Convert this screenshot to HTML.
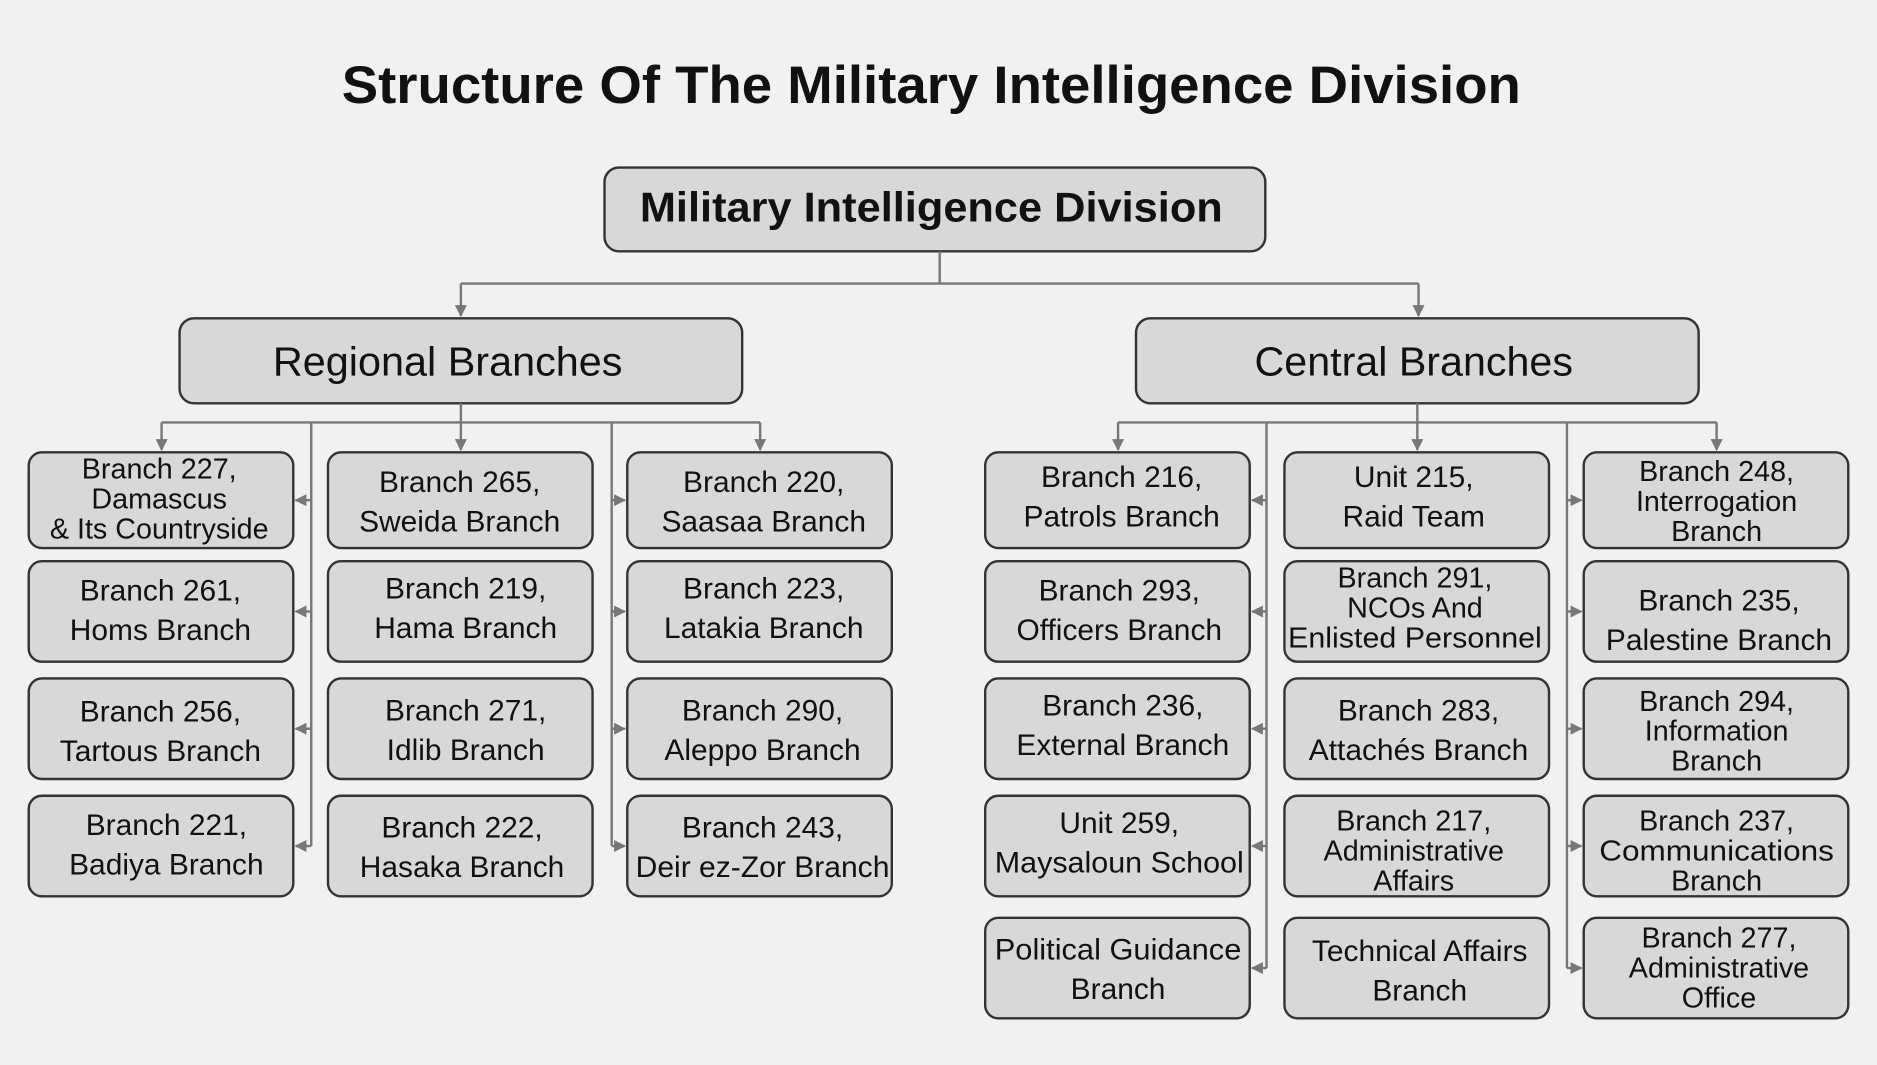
<!DOCTYPE html>
<html><head><meta charset="utf-8"><style>
html,body{margin:0;padding:0;background:#f1f1f1;}
svg{display:block}
text{font-family:"Liberation Sans",sans-serif;fill:#111;text-anchor:middle}
.b{fill:#d8d8d8;stroke:#333;stroke-width:2}
.l{stroke:#777;stroke-width:2;fill:none}
.t{font-size:25px}
.s{font-size:24px}
</style></head><body>
<svg width="1877" height="1065" viewBox="0 0 1568 890" preserveAspectRatio="none" xmlns="http://www.w3.org/2000/svg">
<defs><marker id="a" viewBox="0 0 10 10" refX="9" refY="5" markerWidth="5" markerHeight="5" orient="auto"><path d="M0,0L10,5L0,10z" fill="#777"/></marker></defs>
<rect width="1568" height="890" fill="#f1f1f1"/>
<text x="778" y="86" textLength="985" lengthAdjust="spacingAndGlyphs" style="font-size:44px;font-weight:bold">Structure Of The Military Intelligence Division</text>
<rect class="b" x="505" y="140" width="552" height="70" rx="12"/>
<text x="778" y="185" textLength="487" lengthAdjust="spacingAndGlyphs" style="font-size:35px;font-weight:bold">Military Intelligence Division</text>
<path class="l" d="M785,210V237M385,237H1185"/>
<path class="l" d="M385,237V264" marker-end="url(#a)"/><path class="l" d="M1185,237V264" marker-end="url(#a)"/>
<rect class="b" x="150" y="266" width="470" height="71" rx="12"/>
<text x="374" y="314" textLength="292" lengthAdjust="spacingAndGlyphs" style="font-size:34px">Regional Branches</text>
<rect class="b" x="949" y="266" width="470" height="71" rx="12"/>
<text x="1181" y="314" textLength="266" lengthAdjust="spacingAndGlyphs" style="font-size:34px">Central Branches</text>
<path class="l" d="M385,337V353M135,353H635M260,353V707M511,353V707"/>
<path class="l" d="M135,353V376" marker-end="url(#a)"/><path class="l" d="M385,353V376" marker-end="url(#a)"/><path class="l" d="M635,353V376" marker-end="url(#a)"/>
<path class="l" d="M260,418H247" marker-end="url(#a)"/><path class="l" d="M260,511H247" marker-end="url(#a)"/><path class="l" d="M260,609H247" marker-end="url(#a)"/><path class="l" d="M260,707H247" marker-end="url(#a)"/>
<path class="l" d="M511,418H522" marker-end="url(#a)"/><path class="l" d="M511,511H522" marker-end="url(#a)"/><path class="l" d="M511,609H522" marker-end="url(#a)"/><path class="l" d="M511,707H522" marker-end="url(#a)"/>
<path class="l" d="M1184,337V353M934,353H1434M1058,353V809M1309,353V809"/>
<path class="l" d="M934,353V376" marker-end="url(#a)"/><path class="l" d="M1184,353V376" marker-end="url(#a)"/><path class="l" d="M1434,353V376" marker-end="url(#a)"/>
<path class="l" d="M1058,418H1046" marker-end="url(#a)"/><path class="l" d="M1058,511H1046" marker-end="url(#a)"/><path class="l" d="M1058,609H1046" marker-end="url(#a)"/><path class="l" d="M1058,707H1046" marker-end="url(#a)"/><path class="l" d="M1058,809H1046" marker-end="url(#a)"/>
<path class="l" d="M1309,418H1321" marker-end="url(#a)"/><path class="l" d="M1309,511H1321" marker-end="url(#a)"/><path class="l" d="M1309,609H1321" marker-end="url(#a)"/><path class="l" d="M1309,707H1321" marker-end="url(#a)"/><path class="l" d="M1309,809H1321" marker-end="url(#a)"/>

<rect class="b" x="24" y="378" width="221" height="80" rx="11"/>
<text class="s" x="133" y="400">Branch 227,</text><text class="s" x="133" y="425">Damascus</text><text class="s" x="133" y="450">&amp; Its Countryside</text>
<rect class="b" x="274" y="378" width="221" height="80" rx="11"/>
<text class="t" x="384" y="411">Branch 265,</text><text class="t" x="384" y="444">Sweida Branch</text>
<rect class="b" x="524" y="378" width="221" height="80" rx="11"/>
<text class="t" x="638" y="411">Branch 220,</text><text class="t" x="638" y="444">Saasaa Branch</text>

<rect class="b" x="24" y="469" width="221" height="84" rx="11"/>
<text class="t" x="134" y="502">Branch 261,</text><text class="t" x="134" y="535">Homs Branch</text>
<rect class="b" x="274" y="469" width="221" height="84" rx="11"/>
<text class="t" x="389" y="500">Branch 219,</text><text class="t" x="389" y="533">Hama Branch</text>
<rect class="b" x="524" y="469" width="221" height="84" rx="11"/>
<text class="t" x="638" y="500">Branch 223,</text><text class="t" x="638" y="533">Latakia Branch</text>

<rect class="b" x="24" y="567" width="221" height="84" rx="11"/>
<text class="t" x="134" y="603">Branch 256,</text><text class="t" x="134" y="636">Tartous Branch</text>
<rect class="b" x="274" y="567" width="221" height="84" rx="11"/>
<text class="t" x="389" y="602">Branch 271,</text><text class="t" x="389" y="635">Idlib Branch</text>
<rect class="b" x="524" y="567" width="221" height="84" rx="11"/>
<text class="t" x="637" y="602">Branch 290,</text><text class="t" x="637" y="635">Aleppo Branch</text>

<rect class="b" x="24" y="665" width="221" height="84" rx="11"/>
<text class="t" x="139" y="698">Branch 221,</text><text class="t" x="139" y="731">Badiya Branch</text>
<rect class="b" x="274" y="665" width="221" height="84" rx="11"/>
<text class="t" x="386" y="700">Branch 222,</text><text class="t" x="386" y="733">Hasaka Branch</text>
<rect class="b" x="524" y="665" width="221" height="84" rx="11"/>
<text class="t" x="637" y="700">Branch 243,</text><text class="t" x="637" y="733" textLength="212" lengthAdjust="spacingAndGlyphs">Deir ez-Zor Branch</text>

<rect class="b" x="823" y="378" width="221" height="80" rx="11"/>
<text class="t" x="937" y="407">Branch 216,</text><text class="t" x="937" y="440">Patrols Branch</text>
<rect class="b" x="1073" y="378" width="221" height="80" rx="11"/>
<text class="t" x="1181" y="407">Unit 215,</text><text class="t" x="1181" y="440">Raid Team</text>
<rect class="b" x="1323" y="378" width="221" height="80" rx="11"/>
<text class="s" x="1434" y="402">Branch 248,</text><text class="s" x="1434" y="427">Interrogation</text><text class="s" x="1434" y="452">Branch</text>

<rect class="b" x="823" y="469" width="221" height="84" rx="11"/>
<text class="t" x="935" y="502">Branch 293,</text><text class="t" x="935" y="535">Officers Branch</text>
<rect class="b" x="1073" y="469" width="221" height="84" rx="11"/>
<text class="s" x="1182" y="491">Branch 291,</text><text class="s" x="1182" y="516">NCOs And</text><text class="s" x="1182" y="541" textLength="212" lengthAdjust="spacingAndGlyphs">Enlisted Personnel</text>
<rect class="b" x="1323" y="469" width="221" height="84" rx="11"/>
<text class="t" x="1436" y="510">Branch 235,</text><text class="t" x="1436" y="543">Palestine Branch</text>

<rect class="b" x="823" y="567" width="221" height="84" rx="11"/>
<text class="t" x="938" y="598">Branch 236,</text><text class="t" x="938" y="631">External Branch</text>
<rect class="b" x="1073" y="567" width="221" height="84" rx="11"/>
<text class="t" x="1185" y="602">Branch 283,</text><text class="t" x="1185" y="635">Attachés Branch</text>
<rect class="b" x="1323" y="567" width="221" height="84" rx="11"/>
<text class="s" x="1434" y="594">Branch 294,</text><text class="s" x="1434" y="619">Information</text><text class="s" x="1434" y="644">Branch</text>

<rect class="b" x="823" y="665" width="221" height="84" rx="11"/>
<text class="t" x="935" y="696">Unit 259,</text><text class="t" x="935" y="729" textLength="208" lengthAdjust="spacingAndGlyphs">Maysaloun School</text>
<rect class="b" x="1073" y="665" width="221" height="84" rx="11"/>
<text class="s" x="1181" y="694">Branch 217,</text><text class="s" x="1181" y="719">Administrative</text><text class="s" x="1181" y="744">Affairs</text>
<rect class="b" x="1323" y="665" width="221" height="84" rx="11"/>
<text class="s" x="1434" y="694">Branch 237,</text><text class="s" x="1434" y="719" textLength="196" lengthAdjust="spacingAndGlyphs">Communications</text><text class="s" x="1434" y="744">Branch</text>

<rect class="b" x="823" y="767" width="221" height="84" rx="11"/>
<text class="t" x="934" y="802" textLength="206" lengthAdjust="spacingAndGlyphs">Political Guidance</text><text class="t" x="934" y="835">Branch</text>
<rect class="b" x="1073" y="767" width="221" height="84" rx="11"/>
<text class="t" x="1186" y="803">Technical Affairs</text><text class="t" x="1186" y="836">Branch</text>
<rect class="b" x="1323" y="767" width="221" height="84" rx="11"/>
<text class="s" x="1436" y="792">Branch 277,</text><text class="s" x="1436" y="817">Administrative</text><text class="s" x="1436" y="842">Office</text>
</svg>
</body></html>
